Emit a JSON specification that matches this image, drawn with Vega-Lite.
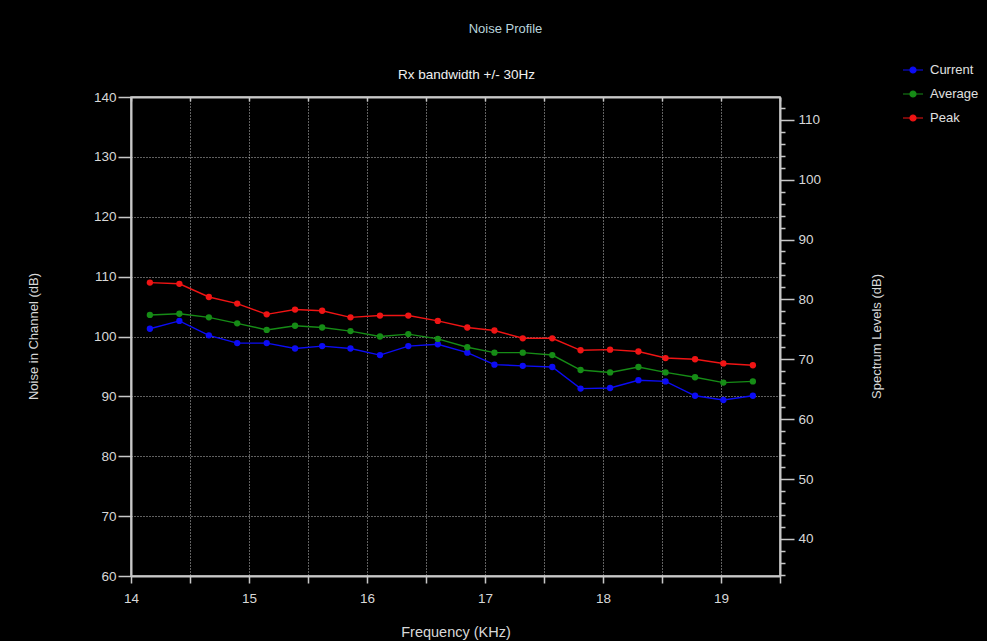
{
  "$schema": "https://vega.github.io/schema/vega-lite/v6.json",
  "width": 649,
  "height": 479,
  "autosize": {"type": "none"},
  "padding": {"left": 131, "top": 97, "right": 207, "bottom": 65},
  "background": "#000000",
  "title": {
    "text": "Noise Profile",
    "anchor": "middle",
    "frame": "group",
    "dx": 50,
    "offset": 23,
    "fontSize": 13,
    "fontWeight": "normal",
    "color": "#b8d4dc",
    "font": "Liberation Sans"
  },
  "config": {
    "font": "Liberation Sans",
    "view": {"stroke": "#c8c8c8", "strokeWidth": 1.5},
    "axis": {
      "labelColor": "#d8d8d8",
      "titleColor": "#d8d8d8",
      "labelFontSize": 13.5,
      "titleFontSize": 13,
      "titleFontWeight": "normal",
      "domainColor": "#c8c8c8",
      "domainWidth": 2,
      "tickColor": "#c8c8c8",
      "tickWidth": 1.5,
      "gridColor": "#c0c0c0",
      "gridDash": [1, 2],
      "gridWidth": 1
    },
    "legend": {"labelColor": "#e0e0e0", "labelFontSize": 13, "labelFont": "Liberation Sans"}
  },
  "datasets": {
    "noise": [
      {"f": 14.16, "s": "Current", "v": 101.3}, {"f": 14.16, "s": "Average", "v": 103.6}, {"f": 14.16, "s": "Peak", "v": 109.0},
      {"f": 14.41, "s": "Current", "v": 102.6}, {"f": 14.41, "s": "Average", "v": 103.8}, {"f": 14.41, "s": "Peak", "v": 108.8},
      {"f": 14.66, "s": "Current", "v": 100.2}, {"f": 14.66, "s": "Average", "v": 103.2}, {"f": 14.66, "s": "Peak", "v": 106.6},
      {"f": 14.90, "s": "Current", "v": 98.9}, {"f": 14.90, "s": "Average", "v": 102.2}, {"f": 14.90, "s": "Peak", "v": 105.5},
      {"f": 15.15, "s": "Current", "v": 98.9}, {"f": 15.15, "s": "Average", "v": 101.1}, {"f": 15.15, "s": "Peak", "v": 103.7},
      {"f": 15.39, "s": "Current", "v": 98.0}, {"f": 15.39, "s": "Average", "v": 101.8}, {"f": 15.39, "s": "Peak", "v": 104.5},
      {"f": 15.62, "s": "Current", "v": 98.4}, {"f": 15.62, "s": "Average", "v": 101.5}, {"f": 15.62, "s": "Peak", "v": 104.3},
      {"f": 15.86, "s": "Current", "v": 98.0}, {"f": 15.86, "s": "Average", "v": 100.9}, {"f": 15.86, "s": "Peak", "v": 103.2},
      {"f": 16.11, "s": "Current", "v": 96.9}, {"f": 16.11, "s": "Average", "v": 100.0}, {"f": 16.11, "s": "Peak", "v": 103.5},
      {"f": 16.35, "s": "Current", "v": 98.4}, {"f": 16.35, "s": "Average", "v": 100.4}, {"f": 16.35, "s": "Peak", "v": 103.5},
      {"f": 16.60, "s": "Current", "v": 98.7}, {"f": 16.60, "s": "Average", "v": 99.6}, {"f": 16.60, "s": "Peak", "v": 102.6},
      {"f": 16.85, "s": "Current", "v": 97.3}, {"f": 16.85, "s": "Average", "v": 98.2}, {"f": 16.85, "s": "Peak", "v": 101.5},
      {"f": 17.08, "s": "Current", "v": 95.3}, {"f": 17.08, "s": "Average", "v": 97.3}, {"f": 17.08, "s": "Peak", "v": 101.0},
      {"f": 17.32, "s": "Current", "v": 95.1}, {"f": 17.32, "s": "Average", "v": 97.3}, {"f": 17.32, "s": "Peak", "v": 99.7},
      {"f": 17.57, "s": "Current", "v": 94.9}, {"f": 17.57, "s": "Average", "v": 96.9}, {"f": 17.57, "s": "Peak", "v": 99.7},
      {"f": 17.81, "s": "Current", "v": 91.3}, {"f": 17.81, "s": "Average", "v": 94.4}, {"f": 17.81, "s": "Peak", "v": 97.7},
      {"f": 18.06, "s": "Current", "v": 91.4}, {"f": 18.06, "s": "Average", "v": 94.0}, {"f": 18.06, "s": "Peak", "v": 97.8},
      {"f": 18.30, "s": "Current", "v": 92.7}, {"f": 18.30, "s": "Average", "v": 94.9}, {"f": 18.30, "s": "Peak", "v": 97.5},
      {"f": 18.53, "s": "Current", "v": 92.5}, {"f": 18.53, "s": "Average", "v": 94.0}, {"f": 18.53, "s": "Peak", "v": 96.4},
      {"f": 18.78, "s": "Current", "v": 90.1}, {"f": 18.78, "s": "Average", "v": 93.2}, {"f": 18.78, "s": "Peak", "v": 96.2},
      {"f": 19.02, "s": "Current", "v": 89.4}, {"f": 19.02, "s": "Average", "v": 92.3}, {"f": 19.02, "s": "Peak", "v": 95.5},
      {"f": 19.27, "s": "Current", "v": 90.1}, {"f": 19.27, "s": "Average", "v": 92.5}, {"f": 19.27, "s": "Peak", "v": 95.2}
    ]
  },
  "layer": [
    {
      "data": {"name": "noise"},
      "encoding": {
        "x": {
          "field": "f",
          "type": "quantitative",
          "scale": {"domain": [14, 19.5], "nice": false, "zero": false},
          "axis": {
            "orient": "bottom",
            "title": "Frequency (KHz)",
            "titleFontSize": 14.5,
            "values": [14, 14.5, 15, 15.5, 16, 16.5, 17, 17.5, 18, 18.5, 19, 19.5],
            "labelExpr": "datum.value % 1 === 0 ? format(datum.value, 'd') : ''",
            "tickSize": 7,
            "labelPadding": 8,
            "labelFlush": false,
            "labelOverlap": false,
            "grid": true,
            "titleY": 56,
            "titleBaseline": "middle"
          }
        },
        "y": {
          "field": "v",
          "type": "quantitative",
          "scale": {"domain": [60, 140], "nice": false, "zero": false},
          "axis": {
            "orient": "left",
            "title": "Noise in Channel (dB)",
            "values": [60, 70, 80, 90, 100, 110, 120, 130, 140],
            "tickSize": 13,
            "labelPadding": 2,
            "grid": true,
            "titleAngle": 270,
            "titleX": -98,
            "titleY": 239,
            "titleAlign": "center",
            "titleBaseline": "middle"
          }
        },
        "color": {
          "field": "s",
          "type": "nominal",
          "scale": {"domain": ["Current", "Average", "Peak"], "range": ["#0c0cf5", "#168c16", "#f01414"]},
          "legend": {
            "title": null,
            "orient": "none",
            "legendX": 771,
            "legendY": -38,
            "padding": 0,
            "symbolType": "M-1,0H1M-0.3,0A0.3,0.3 0 1,0 0.3,0A0.3,0.3 0 1,0 -0.3,0Z",
            "symbolSize": 400,
            "symbolStrokeWidth": 1.2,
            "rowPadding": 6,
            "labelOffset": 6,
            "encode": {
              "symbols": {
                "update": {
                  "fill": {"scale": "color", "field": "value"},
                  "stroke": {"scale": "color", "field": "value"},
                  "opacity": {"value": 1}
                }
              }
            }
          }
        }
      },
      "layer": [
        {"mark": {"type": "line", "strokeWidth": 1.4}},
        {"mark": {"type": "point", "filled": true, "size": 40, "opacity": 1}}
      ]
    },
    {
      "mark": {"type": "point", "opacity": 0},
      "encoding": {
        "x": {
          "datum": 15,
          "type": "quantitative",
          "scale": {"domain": [14, 19.5], "nice": false, "zero": false},
          "axis": {
            "orient": "top",
            "title": "Rx bandwidth +/- 30Hz",
            "values": [14, 14.5, 15, 15.5, 16, 16.5, 17, 17.5, 18, 18.5, 19, 19.5],
            "labels": false,
            "tickSize": -4,
            "domain": true,
            "grid": false,
            "titleX": 335,
            "titleY": -23,
            "titleBaseline": "middle",
            "titleFontSize": 13.5,
            "titleColor": "#f0f0f0"
          }
        },
        "y": {
          "datum": 50,
          "type": "quantitative",
          "scale": {"domain": [33.8, 113.8], "nice": false, "zero": false},
          "axis": {
            "orient": "right",
            "title": "Spectrum Levels (dB)",
            "values": [34, 36, 38, 40, 42, 44, 46, 48, 50, 52, 54, 56, 58, 60, 62, 64, 66, 68, 70, 72, 74, 76, 78, 80, 82, 84, 86, 88, 90, 92, 94, 96, 98, 100, 102, 104, 106, 108, 110, 112],
            "labelExpr": "datum.value % 10 === 0 ? datum.label : ''",
            "tickSize": {"condition": {"test": "datum.value % 10 === 0", "value": 14}, "value": 5},
            "labelPadding": 4,
            "labelOverlap": false,
            "labelFlush": false,
            "grid": false,
            "titleAngle": 270,
            "titleX": 96,
            "titleY": 239,
            "titleAlign": "center",
            "titleBaseline": "middle"
          }
        }
      }
    }
  ],
  "resolve": {"scale": {"x": "independent", "y": "independent"}, "axis": {"x": "independent", "y": "independent"}}
}
